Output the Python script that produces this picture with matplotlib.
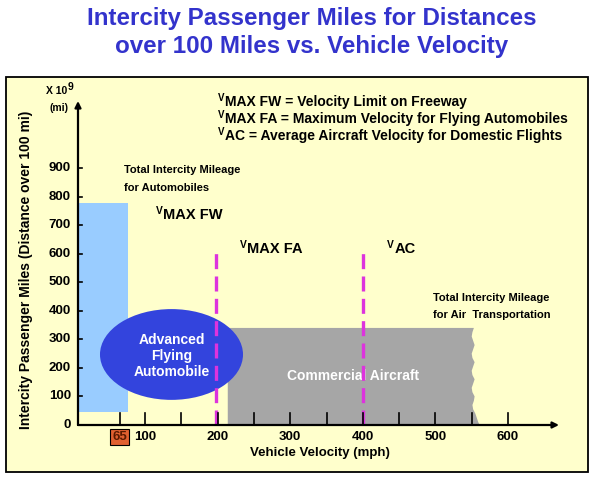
import matplotlib
matplotlib.use("Agg")
import matplotlib.pyplot as plt
from matplotlib.patches import Rectangle, Ellipse, Polygon
import numpy as np

plt.rcParams['font.family'] = ['Liberation Sans', 'DejaVu Sans']
plt.rcParams['font.weight'] = 'bold'
plt.rcParams['mathtext.fontset'] = 'custom'
plt.rcParams['mathtext.rm'] = 'Liberation Sans:bold'
plt.rcParams['mathtext.it'] = 'Liberation Sans:bold'
plt.rcParams['mathtext.bf'] = 'Liberation Sans:bold'

# ---------------- data ----------------
y_ticks = [0, 100, 200, 300, 400, 500, 600, 700, 800, 900]
x_tick_marks = [65, 100, 150, 200, 250, 300, 350, 400, 450, 500, 550, 600]
x_tick_labels = [100, 200, 300, 400, 500, 600]
freeway_limit = 65

# automobile block (x range, y range)
auto_x = [8, 77]
auto_y = [46, 779]

# commercial aircraft block: left edge, top, wavy right edge
air_left = 214
air_top = 340
air_edge_y = [340, 325, 310, 295, 280, 265, 250, 235, 220, 205, 190, 175,
              160, 145, 130, 115, 100, 85, 70, 55, 40, 25, 10, 0]
air_edge_x = [553, 551, 550, 552, 554, 552, 550, 551, 554, 552, 550, 551,
              554, 552, 550, 551, 554, 553, 551, 552, 555, 557, 559, 561]

# advanced flying automobile ellipse
afa_center = (136.5, 247)
afa_width = 197
afa_height = 318

# reference velocities (dashed lines)
v_max_fa = 198
v_ac = 400
v_line_top = 618

# ---------------- figure ----------------
W, H = 594, 478
fig = plt.figure(figsize=(W / 100, H / 100), dpi=100)
fig.patch.set_facecolor('white')

# pixel mapping: px = 72.4 + 0.726*v ; py = 425 - 0.2855*v
sx, ox = 0.726, 72.4
sy, oy = 0.2855, 425.0
ax = fig.add_axes([0, 0, 1, 1])
ax.set_xlim((0 - ox) / sx, (W - ox) / sx)
ax.set_ylim((oy - H) / sy, (oy - 0) / sy)
ax.axis('off')

def px2x(px):
    return (px - ox) / sx

def py2y(py):
    return (oy - py) / sy

def vlabel(px, py, rest, size):
    """Small raised capital V followed by the subscript-like text."""
    vsize = size * 0.7
    ax.text(px2x(px), py2y(py - size * 0.42), "V", ha='left', va='center',
            fontsize=vsize, fontweight='bold', zorder=6)
    vw = 0.667 * vsize * 100 / 72
    ax.text(px2x(px + vw + 0.5), py2y(py), rest, ha='left', va='center',
            fontsize=size, fontweight='bold', zorder=6)

# frame with light yellow background
ax.add_patch(Rectangle((6 / W, 1 - 472 / H), (588 - 6) / W, (472 - 77) / H,
                       transform=ax.transAxes, facecolor='#FFFFCC',
                       edgecolor='black', linewidth=1.3, zorder=0))

# title
fig.text(312 / W, 1 - 19 / H, "Intercity Passenger Miles for Distances",
         ha='center', va='center', fontsize=17.4, color='#3333CC', fontweight='bold')
fig.text(312 / W, 1 - 46 / H, "over 100 Miles vs. Vehicle Velocity",
         ha='center', va='center', fontsize=17.4, color='#3333CC', fontweight='bold')

# automobile block
ax.add_patch(Rectangle((auto_x[0], auto_y[0]), auto_x[1] - auto_x[0],
                       auto_y[1] - auto_y[0], facecolor='#99CCFF',
                       edgecolor='none', zorder=2))

# aircraft block
poly = [(air_left, 0), (air_left, air_top)] + list(zip(air_edge_x, air_edge_y))
ax.add_patch(Polygon(poly, closed=True, facecolor='#A6A6A6', edgecolor='none', zorder=2))

# ellipse
ax.add_patch(Ellipse(afa_center, afa_width, afa_height, facecolor='#3344DD',
                     edgecolor='none', zorder=3))
ax.text(afa_center[0], afa_center[1] - 5, "Advanced\nFlying\nAutomobile",
        ha='center', va='center', color='white', fontsize=10, fontweight='bold',
        linespacing=1.15, zorder=4)
ax.text(px2x(353), py2y(376), "Commercial Aircraft", ha='center', va='center',
        color='white', fontsize=10, fontweight='bold', zorder=4)

# dashed velocity lines
for v in (v_max_fa, v_ac):
    ax.plot([v, v], [0, v_line_top], color='#DD33DD', linewidth=2.4,
            linestyle=(0, (4.5, 2.2)), zorder=5)

# axes arrows
x0 = px2x(78)
ax.annotate("", xy=(px2x(559), 0), xytext=(x0, 0),
            arrowprops=dict(arrowstyle='-|>', color='black', lw=1.6,
                            mutation_scale=9, shrinkA=0, shrinkB=0), zorder=6)
ax.annotate("", xy=(x0, py2y(101)), xytext=(x0, 0),
            arrowprops=dict(arrowstyle='-|>', color='black', lw=1.6,
                            mutation_scale=9, shrinkA=0, shrinkB=0), zorder=6)

# y ticks
for yv in y_ticks:
    ax.plot([x0, x0 + 4 / sx], [yv, yv], color='black', lw=1.2, zorder=6)
    ax.text(px2x(71), yv, str(yv), ha='right', va='center', fontsize=9.5,
            fontweight='bold', zorder=6)

# x ticks (pointing up)
for xv in x_tick_marks:
    ax.plot([xv, xv], [0, 12 / sy], color='black', lw=1.2, zorder=6)
for xv in x_tick_labels:
    ax.text(xv, py2y(437), str(xv), ha='center', va='center', fontsize=9.5,
            fontweight='bold', zorder=6)
ax.text(freeway_limit, py2y(437), str(freeway_limit), ha='center', va='center',
        fontsize=9.5, fontweight='bold', color='#5A1A00', zorder=7,
        bbox=dict(boxstyle='square,pad=0.15', facecolor='#E06030',
                  edgecolor='black', linewidth=0.8))

# axis labels
ax.text(px2x(320), py2y(453), "Vehicle Velocity (mph)", ha='center', va='center',
        fontsize=9.5, fontweight='bold')
ax.text(px2x(26), py2y(270), "Intercity Passenger Miles (Distance over 100 mi)",
        ha='center', va='center', rotation=90, fontsize=10, fontweight='bold')

# units
ax.text(px2x(46), py2y(91), "X 10", ha='left', va='center', fontsize=7.5,
        fontweight='bold')
ax.text(px2x(68), py2y(87), "9", ha='left', va='center', fontsize=7.5,
        fontweight='bold')
ax.text(px2x(49), py2y(108), "(mi)", ha='left', va='center', fontsize=7.5,
        fontweight='bold')

# legend definitions
defs = ["MAX FW = Velocity Limit on Freeway",
        "MAX FA = Maximum Velocity for Flying Automobiles",
        "AC = Average Aircraft Velocity for Domestic Flights"]
for i, s in enumerate(defs):
    vlabel(218, 102 + 17 * i, s, 10)

# annotations
narrow = ['Liberation Sans Narrow', 'Liberation Sans', 'DejaVu Sans']
ax.text(px2x(124), py2y(170), "Total Intercity Mileage", ha='left', va='center',
        fontsize=8, fontweight='bold', family=narrow)
ax.text(px2x(124), py2y(188), "for Automobiles", ha='left', va='center',
        fontsize=8, fontweight='bold', family=narrow)
ax.text(px2x(433), py2y(298), "Total Intercity Mileage", ha='left', va='center',
        fontsize=8, fontweight='bold', family=narrow)
ax.text(px2x(433), py2y(315), "for Air  Transportation", ha='left', va='center',
        fontsize=8, fontweight='bold', family=narrow)

vlabel(156, 215, "MAX FW", 10.5)
vlabel(240, 249, "MAX FA", 10.5)
vlabel(387, 249, "AC", 10.5)

fig.savefig("out.png", dpi=100)
